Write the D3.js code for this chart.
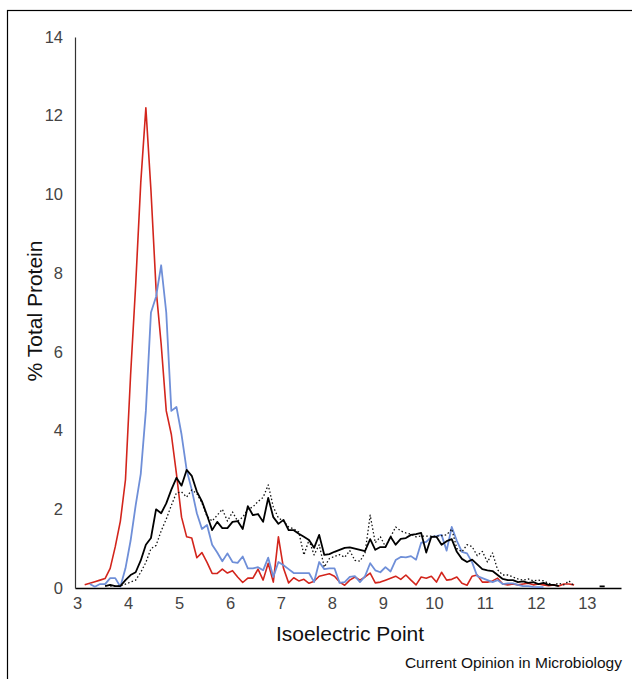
<!DOCTYPE html>
<html>
<head>
<meta charset="utf-8">
<script src="https://cdn.jsdelivr.net/npm/d3@7"></script>
<style>
	body { margin: 0; background: #fff; }
	svg { display: block; }
	.tick text { fill: #444; font-size: 16.5px; font-family: "Liberation Sans", Arial, sans-serif; }
	.lbl { font-family: "Liberation Sans", Arial, sans-serif; fill: #111; }
</style>
</head>
<body>
<script>
// pI bins, every 0.1 starting at 3.15
var binStart = 3.15, binStep = 0.1;

var red = [0.08, 0.12, 0.16, 0.2, 0.24, 0.5, 1.05, 1.7, 2.75, 5.4,
	7.7, 10.3, 12.2, 10.1, 7.6, 6.2, 4.5, 3.9, 2.9, 1.8,
	1.3, 1.27, 0.77, 0.9, 0.65, 0.37, 0.37, 0.48, 0.38, 0.44,
	0.28, 0.14, 0.25, 0.25, 0.48, 0.2, 0.63, 0.15, 1.3, 0.5,
	0.13, 0.26, 0.18, 0.22, 0.12, 0.17, 0.3, 0.33, 0.36, 0.3,
	0.15, 0.07, 0.2, 0.28, 0.2, 0.28, 0.38, 0.13, 0.15, 0.2,
	0.25, 0.3, 0.22, 0.33, 0.2, 0.08, 0.28, 0.25, 0.3, 0.15,
	0.4, 0.2, 0.22, 0.28, 0.12, 0.07, 0.3, 0.33, 0.15, 0.15,
	0.18, 0.25, 0.1, 0.08, 0.1, 0.08, 0.1, 0.12, 0.08, 0.1,
	0.08, 0.06, 0.08, 0.05, 0.1, 0.1, 0.08];

var blue = [null, 0.1, 0.03, 0.1, 0.1, 0.25, 0.25, 0.03, 0.5, 1.2,
	2.1, 2.9, 4.5, 7.0, 7.4, 8.2, 7.0, 4.5, 4.6, 3.9,
	3.0, 2.5, 1.9, 1.5, 1.6, 1.1, 0.9, 0.68, 0.88, 0.66,
	0.64, 0.8, 0.5, 0.5, 0.53, 0.45, 0.77, 0.28, 0.66, 0.58,
	0.48, 0.38, 0.38, 0.38, 0.38, 0.15, 0.66, 0.48, 0.5, 0.5,
	0.13, 0.15, 0.28, 0.3, 0.15, 0.3, 0.63, 0.45, 0.4, 0.53,
	0.42, 0.71, 0.79, 0.78, 0.81, 0.72, 1.15, 1.17, 1.3, 1.32,
	1.35, 0.95, 1.55, 1.2, 0.92, 0.88, 0.65, 0.3, 0.25, 0.2,
	0.15, 0.2, 0.1, 0.12, 0.12, 0.08, 0.05, 0.05, 0.03, 0.02,
	0.02];

var black = [null, null, null, null, 0.05, 0.08, 0.05, 0.05, 0.2, 0.33,
	0.4, 0.7, 1.1, 1.27, 2.0, 1.9, 2.15, 2.5, 2.8, 2.6,
	3.0, 2.85, 2.45, 2.2, 1.85, 1.47, 1.68, 1.52, 1.52, 1.68,
	1.7, 1.5, 2.08, 1.85, 1.88, 1.68, 2.29, 1.8, 1.63, 1.73,
	1.47, 1.47, 1.38, 1.3, 1.22, 1.02, 1.35, 0.84, 0.86, 0.92,
	0.97, 1.02, 1.03, 1.0, 0.97, 0.94, 1.24, 0.97, 1.04, 1.04,
	1.3, 1.1, 1.25, 1.27, 1.35, 1.37, 1.4, 0.9, 1.3, 1.3,
	1.1, 1.19, 1.24, 0.92, 0.74, 0.66, 0.72, 0.6, 0.48, 0.45,
	0.43, 0.33, 0.23, 0.2, 0.2, 0.15, 0.17, 0.13, 0.15, 0.1,
	0.13, 0.08, 0.08, 0.05, null, null, null, null, null, null,
	null, 0.04, 0.04];

var dotted = [null, null, null, null, null, 0.05, 0.05, 0.05, 0.1, 0.15,
	0.2, 0.4, 0.65, 1.0, 1.08, 1.45, 1.75, 2.1, 2.42, 2.44,
	2.31, 2.49, 2.4, 2.16, 1.82, 1.7, 1.85, 2.0, 1.7, 1.93,
	1.7, 1.8, 2.0, 2.06, 2.2, 2.3, 2.62, 2.06, 1.78, 1.7,
	1.55, 1.5, 1.42, 0.84, 1.22, 0.84, 1.1, 0.53, 0.75, 0.8,
	0.85, 0.78, 0.95, 0.7, 0.68, 0.9, 1.85, 1.15, 1.3, 1.05,
	1.3, 1.55, 1.45, 1.4, 1.37, 1.3, 1.32, 1.32, 1.32, 1.32,
	1.33, 1.35, 1.5, 1.0, 0.92, 1.1, 1.05, 0.82, 0.93, 0.66,
	0.89, 0.46, 0.33, 0.33, 0.28, 0.23, 0.2, 0.23, 0.18, 0.2,
	0.18, 0.12, 0.08, 0.12, 0.08, 0.18, 0.05];

var xTicks = [3, 4, 5, 6, 7, 8, 9, 10, 11, 12, 13];
var yTicks = [0, 2, 4, 6, 8, 10, 12, 14];

var W = 632, H = 679;

var svg = d3.select("body").append("svg")
	.attr("width", W)
	.attr("height", H);

// outer frame (open at the bottom)
svg.append("rect")
	.attr("x", 7.5)
	.attr("y", 10.5)
	.attr("width", 640)
	.attr("height", 720)
	.attr("fill", "none")
	.attr("stroke", "#000")
	.attr("stroke-width", 1.2);

var x = d3.scaleLinear().domain([2.96, 13.67]).range([75, 621]);
var y = d3.scaleLinear().domain([0, 14]).range([588, 37]);

var xAxis = svg.append("g")
	.attr("transform", "translate(0," + y(0) + ")")
	.call(d3.axisBottom(x).tickValues(xTicks).tickSize(0).tickPadding(9));
xAxis.select(".domain").attr("stroke", "#000").attr("stroke-width", 1.5);

var yAxis = svg.append("g")
	.attr("transform", "translate(" + x(2.96) + ",0)")
	.call(d3.axisLeft(y).tickValues(yTicks).tickSize(0).tickPadding(12));
yAxis.select(".domain").attr("stroke", "#333").attr("stroke-width", 1.2);

function pts(vals) {
	return vals.map(function(v, i) {
		return { p: binStart + i * binStep, v: v };
	});
}

var line = d3.line()
	.defined(function(d) { return d.v != null; })
	.x(function(d) { return x(d.p); })
	.y(function(d) { return y(d.v); });

var series = [
	{ name: "red", vals: red, color: "#d3251c", width: 1.6, dash: null },
	{ name: "blue", vals: blue, color: "#6f8fd8", width: 1.8, dash: null },
	{ name: "dotted", vals: dotted, color: "#111", width: 1.3, dash: "1.5,2.2" },
	{ name: "black", vals: black, color: "#000", width: 1.8, dash: null }
];

svg.append("g").selectAll("path")
	.data(series)
	.enter().append("path")
		.attr("d", function(d) { return line(pts(d.vals)); })
		.attr("fill", "none")
		.attr("stroke", function(d) { return d.color; })
		.attr("stroke-width", function(d) { return d.width; })
		.attr("stroke-dasharray", function(d) { return d.dash; })
		.attr("stroke-linejoin", "round");

svg.append("text")
	.attr("class", "lbl")
	.attr("transform", "translate(42,311) rotate(-90)")
	.attr("text-anchor", "middle")
	.attr("font-size", 21)
	.text("% Total Protein");

svg.append("text")
	.attr("class", "lbl")
	.attr("x", 350)
	.attr("y", 641)
	.attr("text-anchor", "middle")
	.attr("font-size", 21)
	.text("Isoelectric Point");

svg.append("text")
	.attr("class", "lbl")
	.attr("x", 622)
	.attr("y", 668)
	.attr("text-anchor", "end")
	.attr("font-size", 15.5)
	.text("Current Opinion in Microbiology");
</script>
</body>
</html>
